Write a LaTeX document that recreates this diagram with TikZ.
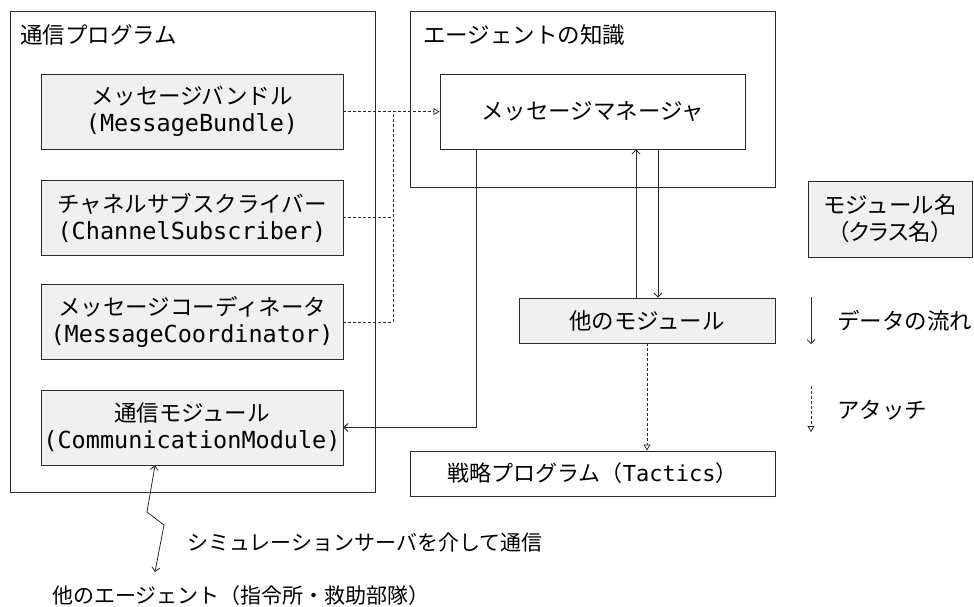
\documentclass[tikz,border=0pt]{standalone}
\usepackage{fontspec}
\setmainfont{Noto Sans CJK JP}
\setmonofont{DejaVu Sans Mono}
\newfontfamily\jpp[RawFeature=+palt]{Noto Sans CJK JP}
\usetikzlibrary{arrows.meta}
\definecolor{boxgray}{HTML}{F0F0F0}
\definecolor{lc}{HTML}{2A2A2A}
\tikzset{
  frame/.style={draw=lc, line width=0.9pt, rectangle, inner sep=0pt},
  mod/.style={frame, fill=boxgray, align=center, font=\fontsize{22.5}{27}\selectfont},
  plain/.style={frame, fill=white, align=center, font=\fontsize{22.5}{27}\selectfont},
  lbl/.style={inner sep=0pt, font=\fontsize{22.5}{27}\selectfont},
  flow/.style={draw=lc, line width=0.8pt, -{Straight Barb[length=4pt,width=8pt]}},
  dline/.style={draw=lc, line width=0.8pt, dash pattern=on 3pt off 2pt},
  attach/.style={dline, -{Triangle[open,length=6pt,width=7pt]}},
}
\newcommand{\mtt}[1]{{\fontsize{23.5}{27}\ttfamily #1}}
\newcommand{\pp}[1]{{\jpp #1}}
\begin{document}
\begin{tikzpicture}[x=1pt,y=-1pt]
\useasboundingbox (0,0) rectangle (974,607);
% containers
\node[frame, minimum width=365pt, minimum height=481pt] (prog) at (192.5,251.5) {};
\node[lbl, anchor=west] (progt) at (20,35) {通信プログラム};
\node[frame, minimum width=365pt, minimum height=176pt] (know) at (592.5,99) {};
\node[lbl, anchor=west] (knowt) at (423,35) {エージェントの知識};
% modules
\node[mod, minimum width=302pt, minimum height=75pt] (mb) at (192,111.5) {メッセージバンドル\\\mtt{(MessageBundle)}};
\node[mod, minimum width=302pt, minimum height=75pt] (cs) at (192,217.5) {チャネルサブスクライバー\\\mtt{(ChannelSubscriber)}};
\node[mod, minimum width=302pt, minimum height=75pt] (mc) at (192,322) {メッセージコーディネータ\\\mtt{(MessageCoordinator)}};
\node[mod, minimum width=302pt, minimum height=75pt] (cm) at (192,427.5) {通信モジュール\\\mtt{(CommunicationModule)}};
\node[plain, minimum width=305pt, minimum height=75pt] (mm) at (592.5,111.5) {メッセージマネージャ};
\node[mod, minimum width=256pt, minimum height=45pt] (other) at (647,320.5) {他のモジュール};
\node[plain, minimum width=365pt, minimum height=45pt, font=\fontsize{22}{27}\selectfont] (tac) at (592.5,473.5) {戦略プログラム（{\fontsize{22}{27}\ttfamily Tactics}）};
% legend
\node[mod, minimum width=164pt, minimum height=76pt] (leg) at (890,219) {モジュール名\\\pp{（クラス名）}};
\coordinate (f1) at (811,297);
\coordinate (f2) at (811,344);
\draw[flow] (f1) -- (f2);
\node[lbl, anchor=west] (flowt) at (837,321) {データの流れ};
\coordinate (a1) at (811,386);
\coordinate (a2) at (811,432);
\draw[attach] (a1) -- (a2);
\node[lbl, anchor=west] (attt) at (837,410) {アタッチ};
% connectors
\coordinate (j) at (393,111.5);
\draw[attach] (mb.east) -- (mm.west);
\draw[dline] (cs.east) -| (j);
\draw[dline] (mc.east) -| (j);
\draw[flow] ([xshift=37pt]mm.south west) |- (cm.east);
\draw[flow] ([xshift=-11pt]other.north) -- ([xshift=-11pt]other.north |- mm.south);
\draw[flow] ([xshift=11pt]other.north |- mm.south) -- ([xshift=11pt]other.north);
\draw[attach] (other.south) -- (other.south |- tac.north);
% bottom
\node[lbl, anchor=west, font=\fontsize{21}{26}\selectfont] (agents) at (52,596) {他のエージェント（指令所・救助部隊）};
\node[lbl, anchor=west, font=\fontsize{21}{26}\selectfont] (simt) at (187,543) {シミュレーションサーバを介して通信};
\coordinate (z1) at (147,512);
\coordinate (z2) at (164,525);
\coordinate (zend) at (155,572);
\draw[draw=lc, line width=0.8pt, {Straight Barb[length=4pt,width=8pt]}-{Straight Barb[length=4pt,width=8pt]}] ([xshift=-37pt]cm.south) -- (z1) -- (z2) -- (zend);
\end{tikzpicture}
\end{document}
